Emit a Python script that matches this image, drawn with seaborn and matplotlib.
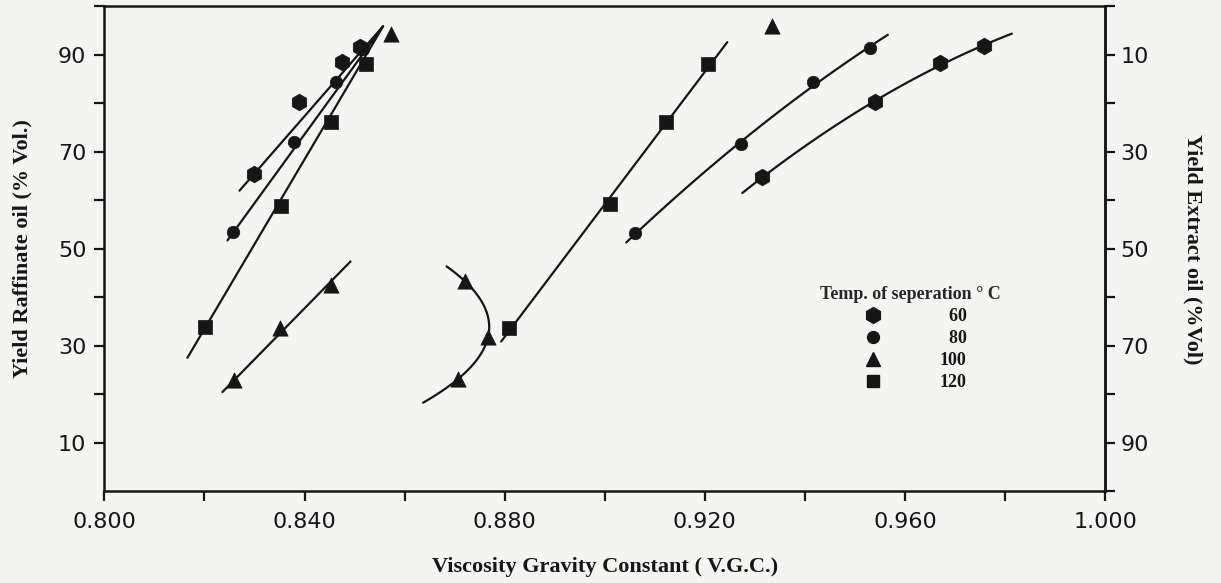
import numpy as np
import pandas as pd
import matplotlib.pyplot as plt
import seaborn as sns
from matplotlib.lines import Line2D
from matplotlib.ticker import FixedLocator, FixedFormatter

# values; VGC on x, yields in % vol
temps = [60, 80, 100, 120]

# raffinate oil (left axis)
raff_vgc_60 = [0.8300, 0.8388, 0.8474, 0.8510]
raff_yld_60 = [65.4, 80.2, 88.5, 91.6]
raff_vgc_80 = [0.8258, 0.8378, 0.8462, 0.8516]
raff_yld_80 = [53.4, 72.0, 84.4, 91.2]
raff_vgc_100 = [0.8260, 0.8350, 0.8452]
raff_yld_100 = [23.0, 33.8, 42.6]
raff_vgc_120 = [0.8202, 0.8352, 0.8452, 0.8523]
raff_yld_120 = [33.9, 58.9, 76.1, 88.1]

# extract oil (right axis, runs top to bottom)
ext_vgc_60 = [0.9315, 0.9540, 0.9670, 0.9758]
ext_yld_60 = [35.2, 19.8, 11.7, 8.2]
ext_vgc_80 = [0.9061, 0.9273, 0.9417, 0.9530]
ext_yld_80 = [46.8, 28.4, 15.6, 8.6]
ext_vgc_100 = [0.8721, 0.8767, 0.8707]
ext_yld_100 = [56.7, 68.1, 76.8]
ext_vgc_120 = [0.8809, 0.9011, 0.9123, 0.9207]
ext_yld_120 = [66.2, 40.8, 23.9, 11.9]

# the two lone 100 C points at the top
lone_raff_vgc = [0.8573]
lone_raff_yld = [94.3]
lone_ext_vgc = [0.9335]
lone_ext_yld = [4.1]

# the raffinate lines of 60, 80 and 120 C all run into this point
meet_vgc = 0.8557
meet_yld = 95.9

# how far each hand fitted curve runs (VGC; 100 C extract curve: yield)
raff_span = {60: (0.8270, 0.8557), 80: (0.8246, 0.8557),
             100: (0.8236, 0.8492), 120: (0.8166, 0.8557)}
ext_span = {60: (0.9275, 0.9814), 80: (0.9043, 0.9566),
            100: (53.6, 81.7), 120: (0.8793, 0.9245)}
ext_order = {60: 2, 80: 2, 100: 2, 120: 1}

rows = []
for t in temps:
    for v, y in zip(globals()[f'raff_vgc_{t}'], globals()[f'raff_yld_{t}']):
        rows.append(('raff', t, v, y, y))
    for v, y in zip(globals()[f'ext_vgc_{t}'], globals()[f'ext_yld_{t}']):
        rows.append(('ext', t, v, y, 100 - y))
for v, y in zip(lone_raff_vgc, lone_raff_yld):
    rows.append(('lone', 100, v, y, y))
for v, y in zip(lone_ext_vgc, lone_ext_yld):
    rows.append(('lone', 100, v, y, 100 - y))
df = pd.DataFrame(rows, columns=['side', 'temp', 'vgc', 'yld', 'plot_y'])

ink = '#161616'
paper = '#f4f4f2'
markers = {60: 'h', 80: 'o', 100: '^', 120: 's'}
msize = {60: 12, 80: 9, 100: 11, 120: 9.5}
serif = ['Liberation Serif', 'DejaVu Serif']

sns.set_style('ticks')
plt.rcParams['font.family'] = ['DejaVu Sans']

fig = plt.figure(figsize=(12.21, 5.83), dpi=100, facecolor=paper)
ax = fig.add_axes([0.0855, 0.157, 0.8195, 0.832])
ax.set_facecolor(paper)

# fitted curves
for t in temps:
    d = df[(df.side == 'raff') & (df.temp == t)]
    x, y = list(d.vgc), list(d.plot_y)
    w = [5.0] + [1.0] * (len(d) - 1)
    if t != 100:
        # pinned to the meeting point, pivoting on the lowest point
        x, y, w = x + [meet_vgc], y + [meet_yld], w + [20.0]
    c = np.polyfit(x, y, 1, w=w)
    xs = np.linspace(*raff_span[t], 60)
    sns.lineplot(x=xs, y=np.polyval(c, xs), ax=ax, color=ink, lw=1.6,
                 sort=False, estimator=None)
    d = df[(df.side == 'ext') & (df.temp == t)]
    if t == 100:
        # this one bends back, so x is fitted against the yield
        c = np.polyfit(d.yld, d.vgc, ext_order[t])
        ys = np.linspace(*ext_span[t], 60)
        sns.lineplot(x=np.polyval(c, ys), y=100 - ys, ax=ax, color=ink,
                     lw=1.6, sort=False, estimator=None)
    else:
        c = np.polyfit(d.vgc, d.plot_y, ext_order[t])
        xs = np.linspace(*ext_span[t], 60)
        sns.lineplot(x=xs, y=np.polyval(c, xs), ax=ax, color=ink, lw=1.6,
                     sort=False, estimator=None)

# points
for t in temps:
    d = df[df.temp == t]
    sns.scatterplot(data=d, x='vgc', y='plot_y', ax=ax, marker=markers[t],
                    s=msize[t] ** 2, color=ink, edgecolor=ink, linewidth=0.5,
                    zorder=3, legend=False)

ax.set_xlim(0.800, 1.000)
ax.set_ylim(0, 100)
ax.xaxis.set_major_locator(FixedLocator([0.80, 0.84, 0.88, 0.92, 0.96, 1.00]))
ax.xaxis.set_major_formatter(FixedFormatter(['0.800', '0.840', '0.880',
                                             '0.920', '0.960', '1.000']))
ax.xaxis.set_minor_locator(FixedLocator([0.82, 0.86, 0.90, 0.94, 0.98]))
ax.yaxis.set_major_locator(FixedLocator([10, 30, 50, 70, 90]))
ax.yaxis.set_minor_locator(FixedLocator([20, 40, 60, 80, 100]))

for s in ax.spines.values():
    s.set_color(ink)
    s.set_linewidth(1.8)
ax.tick_params(which='both', direction='out', length=7, width=1.6,
               color=ink, labelcolor=ink, labelsize=16)
ax.tick_params(axis='x', pad=8)
ax.tick_params(axis='y', pad=6)

sec = ax.secondary_yaxis('right', functions=(lambda y: 100 - y,
                                             lambda y: 100 - y))
sec.yaxis.set_major_locator(FixedLocator([10, 30, 50, 70, 90]))
sec.yaxis.set_minor_locator(FixedLocator([0, 20, 40, 60, 80, 100]))
sec.spines['right'].set_color(ink)
sec.spines['right'].set_linewidth(1.8)
sec.tick_params(which='both', direction='out', length=7, width=1.6,
                color=ink, labelcolor=ink, labelsize=16, pad=4)

lab = dict(family=serif, weight='bold', size=16, color=ink)
ax.set_xlabel('Viscosity Gravity Constant ( V.G.C.)', labelpad=18, **lab)
ax.set_ylabel('Yield Raffinate oil (% Vol.)', labelpad=18, **lab)
sec.set_ylabel('Yield Extract oil (%Vol)', rotation=-90, labelpad=39, **lab)

# legend: numbers set flush right like in the print
handles = [Line2D([], [], ls='none', marker=markers[t], color=ink,
                  markersize=msize[t] * 0.95) for t in temps]
labels = [str(t).rjust(3, '\u2002') for t in temps]
leg = ax.legend(handles, labels, title='Temp. of seperation ° C',
                frameon=False, loc='upper center',
                bbox_to_anchor=(0.746, 0.525), bbox_transform=fig.transFigure,
                handletextpad=2.7, labelspacing=0.28, borderpad=0,
                prop=dict(family=serif, weight='bold', size=13))
leg.get_title().set_fontfamily(serif)
leg.get_title().set_fontweight('bold')
leg.get_title().set_fontsize(13)
for txt in leg.get_texts():
    txt.set_color(ink)

fig.savefig('out.png', dpi=100, facecolor=paper)
